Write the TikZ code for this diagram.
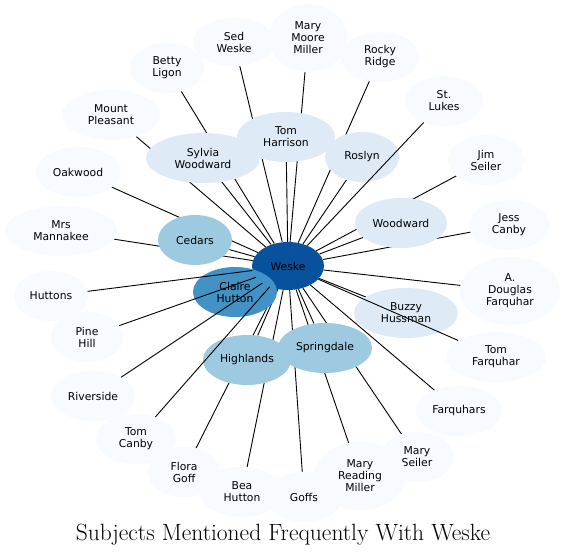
\documentclass[tikz,border=0pt]{standalone}
\usepackage{fontspec}
\newfontfamily\subjfamily{DejaVu Sans}
\newcommand\subjtext{\subjfamily\fontsize{10.8}{12}\selectfont}
\usetikzlibrary{shapes.geometric, backgrounds}
\definecolor{pale}{HTML}{F7FBFF}
\definecolor{light}{HTML}{DEEBF7}
\definecolor{mid}{HTML}{9ECAE1}
\definecolor{deep}{HTML}{4292C6}
\definecolor{core}{HTML}{08519C}

\begin{document}
\begin{tikzpicture}[x=1pt, y=-1pt,
  subj/.style={ellipse, inner sep=0pt, align=center, font=\subjtext},
  sz/.style 2 args={minimum width=#1pt, minimum height=#2pt},
  link/.style={draw=black, line width=0.9pt}]
  \useasboundingbox (0,0) rectangle (566,557);

  % centre
  \node[subj, fill=core, sz={72}{48}] (weske) at (288,266) {Weske};
  \node[subj, fill=deep, sz={84}{50}] (claire) at (235,292) {Claire\\Hutton};

  % mentioned often
  \node[subj, fill=mid, sz={74}{50}] (cedars) at (195,240) {Cedars};
  \node[subj, fill=mid, sz={88}{50}] (highlands) at (247,360) {Highlands};
  \node[subj, fill=mid, sz={94}{50}] (springdale) at (325,348) {Springdale};

  % mentioned now and then
  \node[subj, fill=light, sz={114}{50}] (sylvia) at (203,158) {Sylvia\\Woodward};
  \node[subj, fill=light, sz={98}{50}] (harrison) at (286,137) {Tom\\Harrison};
  \node[subj, fill=light, sz={74}{50}] (roslyn) at (362,157) {Roslyn};
  \node[subj, fill=light, sz={92}{50}] (woodward) at (401,223) {Woodward};
  \node[subj, fill=light, sz={104}{50}] (buzzy) at (406,313) {Buzzy\\Hussman};

  % outer ring
  \node[subj, fill=pale, sz={82}{48}] (sed) at (234,42) {Sed\\Weske};
  \node[subj, fill=pale, sz={78}{68}] (mmm) at (308,38) {Mary\\Moore\\Miller};
  \node[subj, fill=pale, sz={78}{50}] (rocky) at (380,57) {Rocky\\Ridge};
  \node[subj, fill=pale, sz={74}{50}] (betty) at (167,68) {Betty\\Ligon};
  \node[subj, fill=pale, sz={98}{50}] (mount) at (111,115) {Mount\\Pleasant};
  \node[subj, fill=pale, sz={78}{50}] (lukes) at (444,101) {St.\\Lukes};
  \node[subj, fill=pale, sz={76}{50}] (jim) at (486,160) {Jim\\Seiler};
  \node[subj, fill=pale, sz={84}{50}] (oakwood) at (78,172) {Oakwood};
  \node[subj, fill=pale, sz={80}{50}] (jess) at (509,225) {Jess\\Canby};
  \node[subj, fill=pale, sz={112}{50}] (mannakee) at (61,231) {Mrs\\Mannakee};
  \node[subj, fill=pale, sz={100}{68}] (adf) at (510,291) {A.\\Douglas\\Farquhar};
  \node[subj, fill=pale, sz={74}{50}] (huttons) at (51,296) {Huttons};
  \node[subj, fill=pale, sz={72}{50}] (pine) at (87,337) {Pine\\Hill};
  \node[subj, fill=pale, sz={100}{50}] (tomf) at (496,357) {Tom\\Farquhar};
  \node[subj, fill=pale, sz={84}{50}] (riverside) at (93,396) {Riverside};
  \node[subj, fill=pale, sz={86}{50}] (farquhars) at (459,411) {Farquhars};
  \node[subj, fill=pale, sz={80}{50}] (tomc) at (136,439) {Tom\\Canby};
  \node[subj, fill=pale, sz={74}{50}] (marys) at (417,457) {Mary\\Seiler};
  \node[subj, fill=pale, sz={72}{50}] (flora) at (184,472) {Flora\\Goff};
  \node[subj, fill=pale, sz={92}{68}] (mrm) at (360,476) {Mary\\Reading\\Miller};
  \node[subj, fill=pale, sz={84}{50}] (bea) at (242,492) {Bea\\Hutton};
  \node[subj, fill=pale, sz={76}{50}] (goffs) at (304,497) {Goffs};

  % links behind the ellipses
  \begin{pgfonlayer}{background}
    \fill[white] (0,0) rectangle (566,557);
    \foreach \n in {cedars, highlands, springdale, sylvia, harrison, roslyn,
        woodward, buzzy, sed, mmm, rocky, betty, mount, jim, oakwood,
        jess, mannakee, adf, farquhars, marys, flora, mrm, bea, goffs}
      \draw[link] (weske) -- (\n);
  \end{pgfonlayer}

  % links drawn over Claire Hutton, Roslyn and Buzzy Hussman
  \foreach \n in {huttons, pine, riverside, tomc, tomf, lukes}
    \draw[link] (weske) -- (\n);

  \node (title) at (283,535) {\fontsize{23.5}{28}\selectfont Subjects Mentioned Frequently With Weske};
\end{tikzpicture}
\end{document}
